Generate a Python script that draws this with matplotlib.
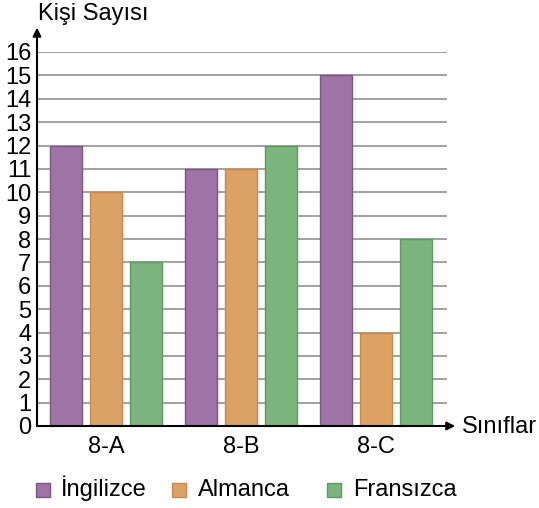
import matplotlib
matplotlib.use("Agg")
import matplotlib.pyplot as plt
from matplotlib.patches import Rectangle
import numpy as np

plt.rcParams['font.family'] = ['Liberation Sans', 'DejaVu Sans']

categories = ["8-A", "8-B", "8-C"]
series_names = ["İngilizce", "Almanca", "Fransızca"]
ingilizce = [12, 11, 15]
almanca = [10, 11, 4]
fransizca = [7, 12, 8]
yticks = list(range(0, 17))

colors = ["#9e74a6", "#dca265", "#79b57c"]
edges = ["#7d5585", "#c7884a", "#5e9a62"]

W, H = 539, 508
fig = plt.figure(figsize=(W / 100, H / 100), dpi=100)
ax = fig.add_axes([37 / W, 82 / H, 410 / W, 374 / H])

x = np.arange(len(categories))
w = 0.237
off = 0.296
for i, (vals, c, e) in enumerate(zip([ingilizce, almanca, fransizca], colors, edges)):
    ax.bar(x + (i - 1) * off, vals, width=w, color=c, edgecolor=e, linewidth=1.0,
           zorder=3, label=series_names[i])

ax.set_xlim(-0.51, 2.526)
ax.set_ylim(0, 16)
ax.set_yticks(yticks)
ax.set_yticklabels([str(t) for t in yticks], fontsize=17)
ax.set_xticks(x)
ax.set_xticklabels(categories, fontsize=17)
ax.tick_params(axis='both', length=0)
ax.tick_params(axis='y', pad=4)
ax.tick_params(axis='x', pad=7)
ax.yaxis.grid(True, color="#9a9a9a", linewidth=1.3, zorder=0)
ax.set_axisbelow(True)
for s in ["top", "right", "left", "bottom"]:
    ax.spines[s].set_visible(False)

# axes with arrows
ax.annotate("", xy=(1.02, 0), xycoords="axes fraction", xytext=(0, 0),
            arrowprops=dict(arrowstyle="-|>", color="black", lw=1.5,
                            mutation_scale=12, shrinkA=0, shrinkB=0))
ax.annotate("", xy=(0, 1.065), xycoords="axes fraction", xytext=(0, 0),
            arrowprops=dict(arrowstyle="-|>", color="black", lw=1.5,
                            mutation_scale=12, shrinkA=0, shrinkB=0))

fig.text(38 / W, 1 - 14 / H, "Kişi Sayısı", fontsize=17, va="center", ha="left")
fig.text(462 / W, 1 - 427 / H, "Sınıflar", fontsize=17, va="center", ha="left")

# legend (manual placement)
sq_x = [36, 172, 327]
txt_x = [61, 198, 353]
sq = 14
sq_top = 483
baseline = 496
for i in range(3):
    fig.add_artist(Rectangle((sq_x[i] / W, 1 - (sq_top + sq) / H), sq / W, sq / H,
                             transform=fig.transFigure, facecolor=colors[i],
                             edgecolor=edges[i], linewidth=1.0))
    fig.text(txt_x[i] / W, 1 - baseline / H, series_names[i], fontsize=17,
             va="baseline", ha="left")

fig.savefig("out.png", dpi=100)
